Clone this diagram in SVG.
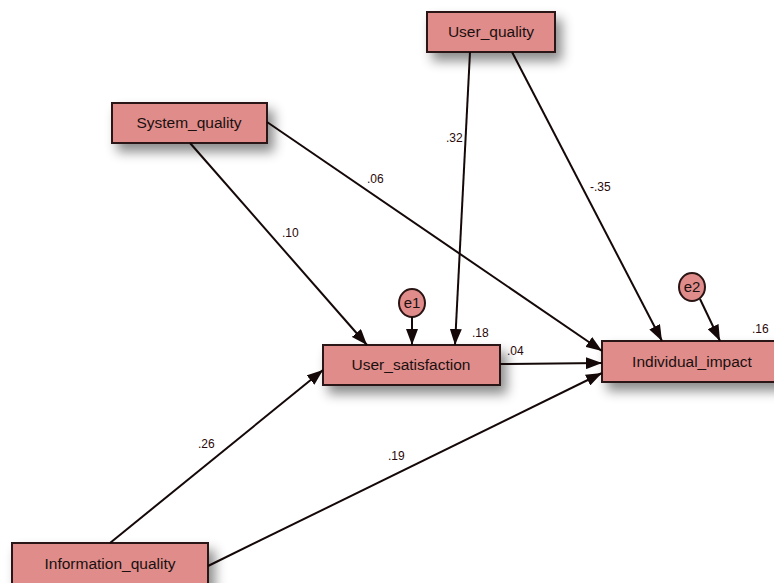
<svg xmlns="http://www.w3.org/2000/svg" width="774" height="583" viewBox="0 0 774 583">
<defs>
<filter id="sh" x="-30%" y="-50%" width="160%" height="220%">
<feDropShadow dx="6" dy="8" stdDeviation="6" flood-color="#000" flood-opacity="0.45"/>
</filter>
<marker id="ar" viewBox="0 0 16 12" refX="16" refY="6" markerWidth="16" markerHeight="12" markerUnits="userSpaceOnUse" orient="auto">
<path d="M0,0 L16,6 L0,12 z" fill="#140808"/>
</marker>
</defs>
<style>
.box{fill:#e08c8a;stroke:#2a1414;stroke-width:2}
.nt{font-family:"Liberation Sans",Arial,sans-serif;font-size:15.5px;fill:#1a1010;text-anchor:middle}
.et{font-family:"Liberation Sans",Arial,sans-serif;font-size:15px;fill:#1a1010;text-anchor:middle}
.lb{font-family:"Liberation Sans",Arial,sans-serif;font-size:12px;fill:#2a0808}
.cn line{stroke:#140808;stroke-width:2;marker-end:url(#ar)}
</style>
<rect width="774" height="583" fill="#fff"/>
<g id="nodes">
<g id="User_quality"><rect class="box" x="427" y="12" width="128" height="40" filter="url(#sh)"/><text class="nt" x="491" y="37">User_quality</text></g>
<g id="System_quality"><rect class="box" x="112" y="103" width="155" height="40" filter="url(#sh)"/><text class="nt" x="189" y="128">System_quality</text></g>
<g id="User_satisfaction"><rect class="box" x="323" y="345" width="177" height="40" filter="url(#sh)"/><text class="nt" x="411" y="370">User_satisfaction</text></g>
<g id="Individual_impact"><rect class="box" x="602" y="341" width="180" height="41" filter="url(#sh)"/><text class="nt" x="692" y="367">Individual_impact</text></g>
<g id="Information_quality"><rect class="box" x="12" y="543" width="196" height="45" filter="url(#sh)"/><text class="nt" x="110" y="569">Information_quality</text></g>
<g id="e1"><ellipse class="box" cx="412" cy="303" rx="13" ry="14"/><text class="et" x="412" y="308">e1</text></g>
<g id="e2"><ellipse class="box" cx="692" cy="287" rx="13" ry="14"/><text class="et" x="692" y="292">e2</text></g>
</g>
<g id="connectors" class="cn">
<line x1="190" y1="143" x2="367" y2="345"/>
<line x1="267" y1="122" x2="602" y2="351"/>
<line x1="470" y1="52" x2="455" y2="345"/>
<line x1="512" y1="52" x2="662" y2="341"/>
<line x1="412" y1="317" x2="412" y2="345"/>
<line x1="700" y1="299" x2="720" y2="341"/>
<line x1="500" y1="364" x2="602" y2="363"/>
<line x1="110" y1="543" x2="323" y2="370"/>
<line x1="208" y1="566" x2="602" y2="373"/>
</g>
<g id="labels">
<text class="lb" x="282" y="237">.10</text>
<text class="lb" x="367" y="183">.06</text>
<text class="lb" x="446" y="142">.32</text>
<text class="lb" x="590" y="191">-.35</text>
<text class="lb" x="472" y="337">.18</text>
<text class="lb" x="752" y="333">.16</text>
<text class="lb" x="507" y="355">.04</text>
<text class="lb" x="198" y="448">.26</text>
<text class="lb" x="388" y="460">.19</text>
</g>
</svg>
